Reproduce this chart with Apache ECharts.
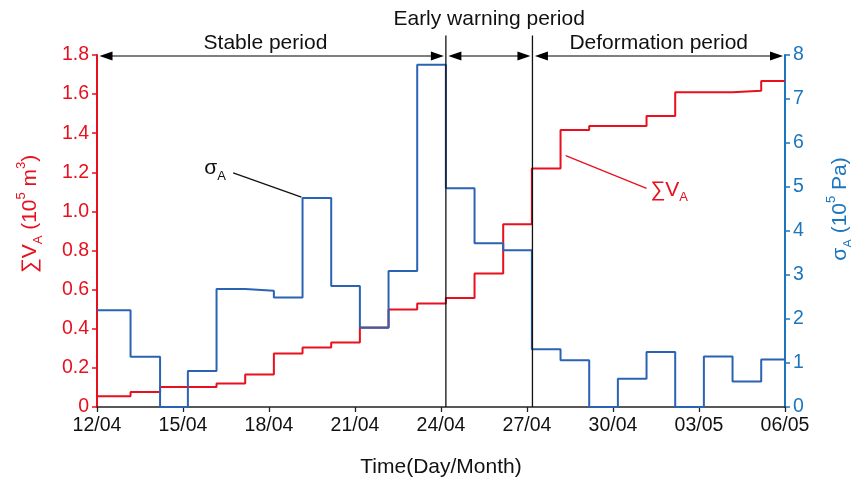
<!DOCTYPE html>
<html>
<head>
<meta charset="utf-8">
<script src="https://cdn.jsdelivr.net/npm/echarts@6/dist/echarts.min.js"></script>
<style>
html,body{margin:0;padding:0;background:#fff;}
#c{width:851px;height:482px;}
</style>
</head>
<body>
<div id="c"></div>
<script>
// ---- data ----
// step change times (days after 12/04), last entry is the end of the record
const stepDays = [0, 1.17, 2.2, 3.17, 4.17, 5.17, 6.17, 7.17, 8.17, 9.17, 10.17, 11.17, 12.17, 13.17, 14.17, 15.17, 16.17, 17.17, 18.17, 19.17, 20.17, 21.17, 22.17, 23.17, 24];
// cumulative volume ΣV_A (10^5 m^3), one value per step
const volume = [0.055, 0.077, 0.102, 0.102, 0.12, 0.166, 0.273, 0.304, 0.33, 0.406, 0.498, 0.529, 0.558, 0.683, 0.935, 1.22, 1.416, 1.437, 1.437, 1.488, 1.609, 1.609, 1.617, 1.667];
// stress σ_A (10^5 Pa), one value per step
const sigma = [2.2, 1.14, 0, 0.82, 2.68, 2.64, 2.49, 4.75, 2.75, 1.8, 3.09, 7.78, 4.97, 3.72, 3.56, 1.31, 1.06, 0, 0.64, 1.25, 0, 1.15, 0.58, 1.08];
const xTickLabels = ['12/04', '15/04', '18/04', '21/04', '24/04', '27/04', '30/04', '03/05', '06/05'];
// periods (day boundaries)
const periodBounds = [0, 12.17, 15.19, 24];
const periodNames = ['Stable period', 'Early warning period', 'Deformation period'];

const RED = '#e8101e';
const BLUE_LINE = '#2a63b3';
const BLUE_AXIS = '#1b76be';
const FONT = "'Liberation Sans', Arial, sans-serif";

function stepData(vals) {
  return stepDays.map((d, i) => [d, vals[Math.min(i, vals.length - 1)]]);
}

const chart = echarts.init(document.getElementById('c'), null, {renderer: 'canvas'});

const richName = (color) => ({
  a: {fontSize: 21, fontFamily: FONT, color: color, lineHeight: 30},
  s: {fontSize: 13, fontFamily: FONT, color: color, lineHeight: 13, verticalAlign: 'bottom'},
  p: {fontSize: 13, fontFamily: FONT, color: color, lineHeight: 13, verticalAlign: 'top'}
});

chart.setOption({
  animation: false,
  backgroundColor: '#fff',
  grid: {left: 97, right: 66, top: 55, bottom: 75, containLabel: false, outerBoundsMode: 'none'},
  xAxis: {
    type: 'value', min: 0, max: 24, interval: 3,
    name: 'Time(Day/Month)', nameLocation: 'middle', nameGap: 50,
    nameTextStyle: {fontSize: 21, fontFamily: FONT, color: '#111'},
    axisLine: {show: true, lineStyle: {color: '#222', width: 1.5}},
    axisTick: {show: true, length: 5, lineStyle: {color: '#222', width: 1.3}},
    axisLabel: {fontSize: 19.5, fontFamily: FONT, color: '#111', margin: 9,
      formatter: v => xTickLabels[Math.round(v / 3)]},
    splitLine: {show: false}
  },
  yAxis: [
    {
      type: 'value', min: 0, max: 1.8, interval: 0.2, position: 'left',
      name: '{a|∑V}{s|A}{a| (10}{p|5}{a| m}{p|3}{a|)}',
      nameLocation: 'middle', nameGap: 52, nameRotate: 90,
      nameTextStyle: {color: RED, fontSize: 21, fontFamily: FONT, rich: richName(RED), padding: [0, 0, 0, 34]},
      axisLine: {show: true, onZero: false, lineStyle: {color: RED, width: 2}},
      axisTick: {show: true, length: 5, lineStyle: {color: RED, width: 1.5}},
      axisLabel: {fontSize: 19.5, fontFamily: FONT, color: RED, margin: 8,
        formatter: v => v === 0 ? '0' : v.toFixed(1)},
      splitLine: {show: false}
    },
    {
      type: 'value', min: 0, max: 8, interval: 1, position: 'right',
      name: '{a|σ}{s|A}{a| (10}{p|5}{a| Pa)}',
      nameLocation: 'middle', nameGap: 40, nameRotate: 90,
      nameTextStyle: {color: BLUE_AXIS, fontSize: 21, fontFamily: FONT, rich: richName(BLUE_AXIS), padding: [0, 0, 0, 44]},
      axisLine: {show: true, onZero: false, lineStyle: {color: BLUE_AXIS, width: 2}},
      axisTick: {show: true, length: 5, lineStyle: {color: BLUE_AXIS, width: 1.5}},
      axisLabel: {fontSize: 19.5, fontFamily: FONT, color: BLUE_AXIS, margin: 8},
      splitLine: {show: false}
    }
  ],
  series: [
    {
      name: 'ΣVA', type: 'line', step: 'end', yAxisIndex: 0, xAxisIndex: 0,
      data: stepData(volume), showSymbol: false, symbol: 'none',
      lineStyle: {color: RED, width: 2}, z: 3
    },
    {
      name: 'σA', type: 'line', step: 'end', yAxisIndex: 1, xAxisIndex: 0,
      data: stepData(sigma), showSymbol: false, symbol: 'none',
      lineStyle: {color: BLUE_LINE, width: 2}, z: 4
    }
  ]
});

// ---- annotations positioned through the axes ----
const px = d => chart.convertToPixel({xAxisIndex: 0}, d);
const pyL = v => chart.convertToPixel({yAxisIndex: 0}, v);
const pyR = v => chart.convertToPixel({yAxisIndex: 1}, v);

const g = [];
const arrowY = pyL(1.8) + 1;
const bottomY = pyL(0);
const dividerTop = pyL(1.9);

// divider lines
[periodBounds[1], periodBounds[2]].forEach(d => {
  const x = px(d);
  g.push({type: 'line', shape: {x1: x, y1: dividerTop, x2: x, y2: bottomY},
    style: {stroke: '#111', lineWidth: 1.3}, z: 10});
});

// double arrows + labels
function arrowHead(xTip, dir) {
  const L = 13, H = 4.5;
  return {type: 'polygon', shape: {points: [[xTip, arrowY], [xTip + dir * L, arrowY - H], [xTip + dir * L, arrowY + H]]},
    style: {fill: '#000'}, z: 11};
}
for (let i = 0; i < 3; i++) {
  const xa = px(periodBounds[i]) + 2.5;
  const xb = px(periodBounds[i + 1]) - 2;
  g.push({type: 'line', shape: {x1: xa + 6, y1: arrowY, x2: xb - 6, y2: arrowY},
    style: {stroke: '#555', lineWidth: 1.6}, z: 10});
  g.push(arrowHead(xa, 1));
  g.push(arrowHead(xb, -1));
  const cx = (px(periodBounds[i]) + px(periodBounds[i + 1])) / 2;
  const ty = i === 1 ? arrowY - 37 : arrowY - 13;
  g.push({type: 'text', x: cx + (i === 0 ? -6 : 0), y: ty,
    style: {text: periodNames[i], fontSize: 21, fontFamily: FONT, fill: '#111', align: 'center', verticalAlign: 'middle'}, z: 12});
}

// leader lines
g.push({type: 'line', shape: {x1: px(4.75), y1: pyR(5.32), x2: px(7.13), y2: pyR(4.77)},
  style: {stroke: '#111', lineWidth: 1.3}, z: 10});
g.push({type: 'line', shape: {x1: px(16.35), y1: pyL(1.285), x2: px(19.17), y2: pyL(1.118)},
  style: {stroke: RED, lineWidth: 1.3}, z: 10});

const richLbl = (color) => ({
  m: {fontSize: 21, fontFamily: FONT, fill: color, color: color, lineHeight: 28},
  s: {fontSize: 13, fontFamily: FONT, fill: color, color: color, lineHeight: 13, verticalAlign: 'bottom'}
});
g.push({type: 'text', x: px(3.74), y: pyR(5.42),
  style: {text: '{m|σ}{s|A}', rich: richLbl('#111'), fill: '#111', align: 'left', verticalAlign: 'middle'}, z: 12});
g.push({type: 'text', x: px(19.3), y: pyL(1.11),
  style: {text: '{m|∑V}{s|A}', rich: richLbl(RED), fill: RED, align: 'left', verticalAlign: 'middle'}, z: 12});

chart.setOption({graphic: g});
</script>
</body>
</html>
